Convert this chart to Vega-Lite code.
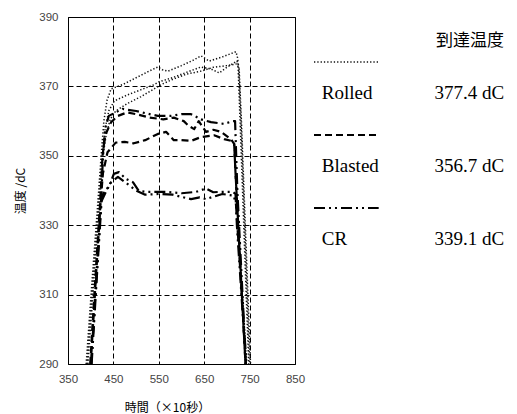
{
 "$schema": "https://vega.github.io/schema/vega-lite/v6.json",
 "padding": {"left": 14, "top": 10, "right": 0, "bottom": 0},
 "spacing": 6,
 "background": "white",
 "config": {"view": {"stroke": null}, "font": "Liberation Sans"},
 "datasets": {
  "curves": [
   {"id":"R1","group":"Rolled","t":390,"T":290},{"id":"R1","group":"Rolled","t":403,"T":314},{"id":"R1","group":"Rolled","t":416,"T":337},{"id":"R1","group":"Rolled","t":423,"T":350},{"id":"R1","group":"Rolled","t":429,"T":360},{"id":"R1","group":"Rolled","t":436,"T":366},{"id":"R1","group":"Rolled","t":445,"T":369.3},{"id":"R1","group":"Rolled","t":470,"T":370.5},{"id":"R1","group":"Rolled","t":500,"T":372.5},{"id":"R1","group":"Rolled","t":530,"T":374.5},{"id":"R1","group":"Rolled","t":548,"T":375.6},{"id":"R1","group":"Rolled","t":558,"T":374.8},{"id":"R1","group":"Rolled","t":570,"T":374.4},{"id":"R1","group":"Rolled","t":600,"T":376},{"id":"R1","group":"Rolled","t":625,"T":377.5},{"id":"R1","group":"Rolled","t":643,"T":378.8},{"id":"R1","group":"Rolled","t":661,"T":377.3},{"id":"R1","group":"Rolled","t":690,"T":378.5},{"id":"R1","group":"Rolled","t":720,"T":380},{"id":"R1","group":"Rolled","t":724,"T":378},{"id":"R1","group":"Rolled","t":729,"T":360},{"id":"R1","group":"Rolled","t":748,"T":290},
   {"id":"R2","group":"Rolled","t":392,"T":290},{"id":"R2","group":"Rolled","t":405,"T":314},{"id":"R2","group":"Rolled","t":418,"T":337},{"id":"R2","group":"Rolled","t":425,"T":350},{"id":"R2","group":"Rolled","t":432,"T":358},{"id":"R2","group":"Rolled","t":440,"T":363},{"id":"R2","group":"Rolled","t":452,"T":365.8},{"id":"R2","group":"Rolled","t":480,"T":367.5},{"id":"R2","group":"Rolled","t":510,"T":369},{"id":"R2","group":"Rolled","t":540,"T":370.5},{"id":"R2","group":"Rolled","t":550,"T":371.3},{"id":"R2","group":"Rolled","t":580,"T":372.5},{"id":"R2","group":"Rolled","t":610,"T":374},{"id":"R2","group":"Rolled","t":643,"T":375.6},{"id":"R2","group":"Rolled","t":665,"T":375},{"id":"R2","group":"Rolled","t":683,"T":373.9},{"id":"R2","group":"Rolled","t":700,"T":375.5},{"id":"R2","group":"Rolled","t":722,"T":377.3},{"id":"R2","group":"Rolled","t":726,"T":376},{"id":"R2","group":"Rolled","t":731,"T":360},{"id":"R2","group":"Rolled","t":750,"T":290},
   {"id":"R3","group":"Rolled","t":394,"T":290},{"id":"R3","group":"Rolled","t":407,"T":314},{"id":"R3","group":"Rolled","t":420,"T":337},{"id":"R3","group":"Rolled","t":427,"T":350},{"id":"R3","group":"Rolled","t":434,"T":356},{"id":"R3","group":"Rolled","t":443,"T":360.5},{"id":"R3","group":"Rolled","t":455,"T":362.9},{"id":"R3","group":"Rolled","t":480,"T":365},{"id":"R3","group":"Rolled","t":510,"T":367},{"id":"R3","group":"Rolled","t":540,"T":369.3},{"id":"R3","group":"Rolled","t":555,"T":370.5},{"id":"R3","group":"Rolled","t":580,"T":372},{"id":"R3","group":"Rolled","t":610,"T":373.5},{"id":"R3","group":"Rolled","t":643,"T":374.4},{"id":"R3","group":"Rolled","t":670,"T":375.5},{"id":"R3","group":"Rolled","t":700,"T":376},{"id":"R3","group":"Rolled","t":722,"T":376.5},{"id":"R3","group":"Rolled","t":727,"T":375},{"id":"R3","group":"Rolled","t":732,"T":360},{"id":"R3","group":"Rolled","t":752,"T":290},
   {"id":"B1","group":"Blasted","t":399,"T":290},{"id":"B1","group":"Blasted","t":410,"T":314},{"id":"B1","group":"Blasted","t":421,"T":337},{"id":"B1","group":"Blasted","t":426,"T":350},{"id":"B1","group":"Blasted","t":432,"T":356},{"id":"B1","group":"Blasted","t":445,"T":359.7},{"id":"B1","group":"Blasted","t":460,"T":361.5},{"id":"B1","group":"Blasted","t":480,"T":362.5},{"id":"B1","group":"Blasted","t":500,"T":362},{"id":"B1","group":"Blasted","t":530,"T":361},{"id":"B1","group":"Blasted","t":560,"T":360.5},{"id":"B1","group":"Blasted","t":583,"T":361},{"id":"B1","group":"Blasted","t":605,"T":360},{"id":"B1","group":"Blasted","t":616,"T":358.6},{"id":"B1","group":"Blasted","t":628,"T":357.7},{"id":"B1","group":"Blasted","t":638,"T":360},{"id":"B1","group":"Blasted","t":654,"T":356.9},{"id":"B1","group":"Blasted","t":670,"T":357.5},{"id":"B1","group":"Blasted","t":687,"T":356.9},{"id":"B1","group":"Blasted","t":709,"T":354.8},{"id":"B1","group":"Blasted","t":716,"T":353.4},{"id":"B1","group":"Blasted","t":719,"T":345},{"id":"B1","group":"Blasted","t":741,"T":290},
   {"id":"B2","group":"Blasted","t":400,"T":290},{"id":"B2","group":"Blasted","t":411,"T":314},{"id":"B2","group":"Blasted","t":422,"T":337},{"id":"B2","group":"Blasted","t":427,"T":345},{"id":"B2","group":"Blasted","t":437,"T":351},{"id":"B2","group":"Blasted","t":455,"T":353.8},{"id":"B2","group":"Blasted","t":475,"T":354},{"id":"B2","group":"Blasted","t":495,"T":353.6},{"id":"B2","group":"Blasted","t":520,"T":354.5},{"id":"B2","group":"Blasted","t":548,"T":356.3},{"id":"B2","group":"Blasted","t":566,"T":356.9},{"id":"B2","group":"Blasted","t":583,"T":354.5},{"id":"B2","group":"Blasted","t":600,"T":354.5},{"id":"B2","group":"Blasted","t":621,"T":354.3},{"id":"B2","group":"Blasted","t":643,"T":355.4},{"id":"B2","group":"Blasted","t":672,"T":355.9},{"id":"B2","group":"Blasted","t":694,"T":354.8},{"id":"B2","group":"Blasted","t":710,"T":354.3},{"id":"B2","group":"Blasted","t":716,"T":353.5},{"id":"B2","group":"Blasted","t":719,"T":345},{"id":"B2","group":"Blasted","t":741,"T":290},
   {"id":"C1","group":"CR","t":401,"T":290},{"id":"C1","group":"CR","t":412,"T":314},{"id":"C1","group":"CR","t":423,"T":337},{"id":"C1","group":"CR","t":427,"T":350},{"id":"C1","group":"CR","t":432,"T":358},{"id":"C1","group":"CR","t":440,"T":361.5},{"id":"C1","group":"CR","t":456,"T":362.6},{"id":"C1","group":"CR","t":470,"T":363.5},{"id":"C1","group":"CR","t":500,"T":362.9},{"id":"C1","group":"CR","t":530,"T":362},{"id":"C1","group":"CR","t":548,"T":361.5},{"id":"C1","group":"CR","t":577,"T":361.5},{"id":"C1","group":"CR","t":600,"T":362},{"id":"C1","group":"CR","t":621,"T":362},{"id":"C1","group":"CR","t":643,"T":360.5},{"id":"C1","group":"CR","t":665,"T":359.7},{"id":"C1","group":"CR","t":694,"T":359.2},{"id":"C1","group":"CR","t":713,"T":360},{"id":"C1","group":"CR","t":718,"T":360},{"id":"C1","group":"CR","t":720,"T":352},{"id":"C1","group":"CR","t":723,"T":340},{"id":"C1","group":"CR","t":742,"T":290},
   {"id":"C2","group":"CR","t":401,"T":290},{"id":"C2","group":"CR","t":412,"T":314},{"id":"C2","group":"CR","t":423,"T":337},{"id":"C2","group":"CR","t":430,"T":340},{"id":"C2","group":"CR","t":440,"T":341},{"id":"C2","group":"CR","t":451,"T":344.8},{"id":"C2","group":"CR","t":462,"T":345.3},{"id":"C2","group":"CR","t":478,"T":343.3},{"id":"C2","group":"CR","t":493,"T":342.4},{"id":"C2","group":"CR","t":506,"T":339.9},{"id":"C2","group":"CR","t":522,"T":339.6},{"id":"C2","group":"CR","t":537,"T":339.6},{"id":"C2","group":"CR","t":566,"T":339.6},{"id":"C2","group":"CR","t":600,"T":339.2},{"id":"C2","group":"CR","t":632,"T":339.6},{"id":"C2","group":"CR","t":654,"T":340.6},{"id":"C2","group":"CR","t":670,"T":339.5},{"id":"C2","group":"CR","t":683,"T":339.6},{"id":"C2","group":"CR","t":713,"T":339.6},{"id":"C2","group":"CR","t":719,"T":339},{"id":"C2","group":"CR","t":722,"T":330},{"id":"C2","group":"CR","t":742,"T":290},
   {"id":"C3","group":"CR","t":402,"T":290},{"id":"C3","group":"CR","t":413,"T":314},{"id":"C3","group":"CR","t":424,"T":337},{"id":"C3","group":"CR","t":433,"T":339.5},{"id":"C3","group":"CR","t":445,"T":342.4},{"id":"C3","group":"CR","t":460,"T":343.9},{"id":"C3","group":"CR","t":480,"T":342},{"id":"C3","group":"CR","t":500,"T":340},{"id":"C3","group":"CR","t":520,"T":338.8},{"id":"C3","group":"CR","t":550,"T":339},{"id":"C3","group":"CR","t":580,"T":338.8},{"id":"C3","group":"CR","t":621,"T":337.5},{"id":"C3","group":"CR","t":640,"T":338},{"id":"C3","group":"CR","t":654,"T":337.5},{"id":"C3","group":"CR","t":670,"T":338.2},{"id":"C3","group":"CR","t":690,"T":339},{"id":"C3","group":"CR","t":715,"T":338.5},{"id":"C3","group":"CR","t":720,"T":336},{"id":"C3","group":"CR","t":743,"T":290}
  ],
  "legendRows": [
   {"group":"Rolled","label":"Rolled","value":"377.4 dC"},
   {"group":"Blasted","label":"Blasted","value":"356.7 dC"},
   {"group":"CR","label":"CR","value":"339.1 dC"}
  ]
 },
 "hconcat": [
  {
   "width": 227,
   "height": 347,
   "view": {"stroke": "black", "strokeWidth": 1},
   "data": {"name": "curves"},
   "mark": {"type": "line", "clip": true, "strokeCap": "butt", "strokeJoin": "round"},
   "encoding": {
    "x": {"field": "t", "type": "quantitative",
     "scale": {"domain": [350, 850], "nice": false, "zero": false},
     "axis": {"values": [350,450,550,650,750,850], "title": "時間（×10秒）", "titleFont": "Noto Sans CJK JP", "titleFontSize": 12, "titleFontWeight": "normal", "titleColor": "#000", "titlePadding": 18, "titleAnchor": "middle", "titleX": 99,
      "labelFont": "Liberation Sans", "labelFontSize": 11.5, "labelColor": "#444", "labelPadding": 9, "labelFlush": false, "labelOverlap": false,
      "ticks": false, "tickSize": 0, "domain": false, "grid": true, "gridColor": "#000", "gridDash": [5,3], "gridOpacity": 1, "gridWidth": 1}},
    "y": {"field": "T", "type": "quantitative",
     "scale": {"domain": [290, 390], "nice": false, "zero": false},
     "axis": {"values": [290,310,330,350,370,390], "title": "温度 /dC", "titleFont": "Noto Sans CJK JP", "titleFontSize": 12, "titleFontWeight": "normal", "titleColor": "#000", "titlePadding": 11,
      "labelFont": "Liberation Sans", "labelFontSize": 11.5, "labelColor": "#444", "labelPadding": 10, "labelFlush": false, "labelOverlap": false,
      "ticks": false, "tickSize": 0, "domain": false, "grid": true, "gridColor": "#000", "gridDash": [5,3], "gridOpacity": 1, "gridWidth": 1}},
    "detail": {"field": "id", "type": "nominal"},
    "strokeDash": {"field": "group", "type": "nominal", "scale": {"domain": ["Rolled","Blasted","CR"], "range": [[1.3,2],[7,4],[11,4,2,4,2,4]]}, "legend": null},
    "strokeWidth": {"field": "group", "type": "nominal", "scale": {"type": "ordinal", "domain": ["Rolled","Blasted","CR"], "range": [1.5,2.2,2.2]}, "legend": null},
    "color": {"field": "group", "type": "nominal", "scale": {"domain": ["Rolled","Blasted","CR"], "range": ["#111","#000","#000"]}, "legend": null}
   }
  },
  {
   "width": 196,
   "height": 347,
   "layer": [
    {
     "data": {"name": "legendRows"},
     "mark": {"type": "rule", "strokeCap": "butt"},
     "encoding": {
      "x": {"datum": 0, "type": "quantitative", "scale": {"domain": [0, 100], "nice": false, "zero": false}, "axis": null},
      "x2": {"datum": 33},
      "y": {"field": "group", "type": "nominal", "scale": {"type": "point", "domain": ["Rolled","Blasted","CR"], "range": [45, 191], "padding": 0}, "axis": null},
      "strokeDash": {"field": "group", "type": "nominal", "scale": {"domain": ["Rolled","Blasted","CR"], "range": [[1.3,2],[7,4],[11,4,2,4,2,4]]}, "legend": null},
      "strokeWidth": {"field": "group", "type": "nominal", "scale": {"type": "ordinal", "domain": ["Rolled","Blasted","CR"], "range": [1.5,2.2,2.2]}, "legend": null},
      "color": {"field": "group", "type": "nominal", "scale": {"domain": ["Rolled","Blasted","CR"], "range": ["#111","#000","#000"]}, "legend": null}
     }
    },
    {
     "data": {"name": "legendRows"},
     "mark": {"type": "text", "align": "left", "baseline": "alphabetic", "dy": 37, "font": "Liberation Serif", "fontSize": 19, "color": "#000"},
     "encoding": {
      "x": {"datum": 4, "type": "quantitative"},
      "y": {"field": "group", "type": "nominal"},
      "text": {"field": "label"}
     }
    },
    {
     "data": {"name": "legendRows"},
     "mark": {"type": "text", "align": "right", "baseline": "alphabetic", "dy": 37, "font": "Liberation Serif", "fontSize": 19, "color": "#000"},
     "encoding": {
      "x": {"datum": 97, "type": "quantitative"},
      "y": {"field": "group", "type": "nominal"},
      "text": {"field": "value"}
     }
    },
    {
     "data": {"values": [{"h": "到達温度"}]},
     "mark": {"type": "text", "align": "right", "baseline": "alphabetic", "dy": -16, "font": "Noto Sans CJK JP", "fontSize": 17, "color": "#000"},
     "encoding": {
      "x": {"datum": 97, "type": "quantitative"},
      "y": {"datum": "Rolled", "type": "nominal"},
      "text": {"field": "h"}
     }
    }
   ]
  }
 ]
}
